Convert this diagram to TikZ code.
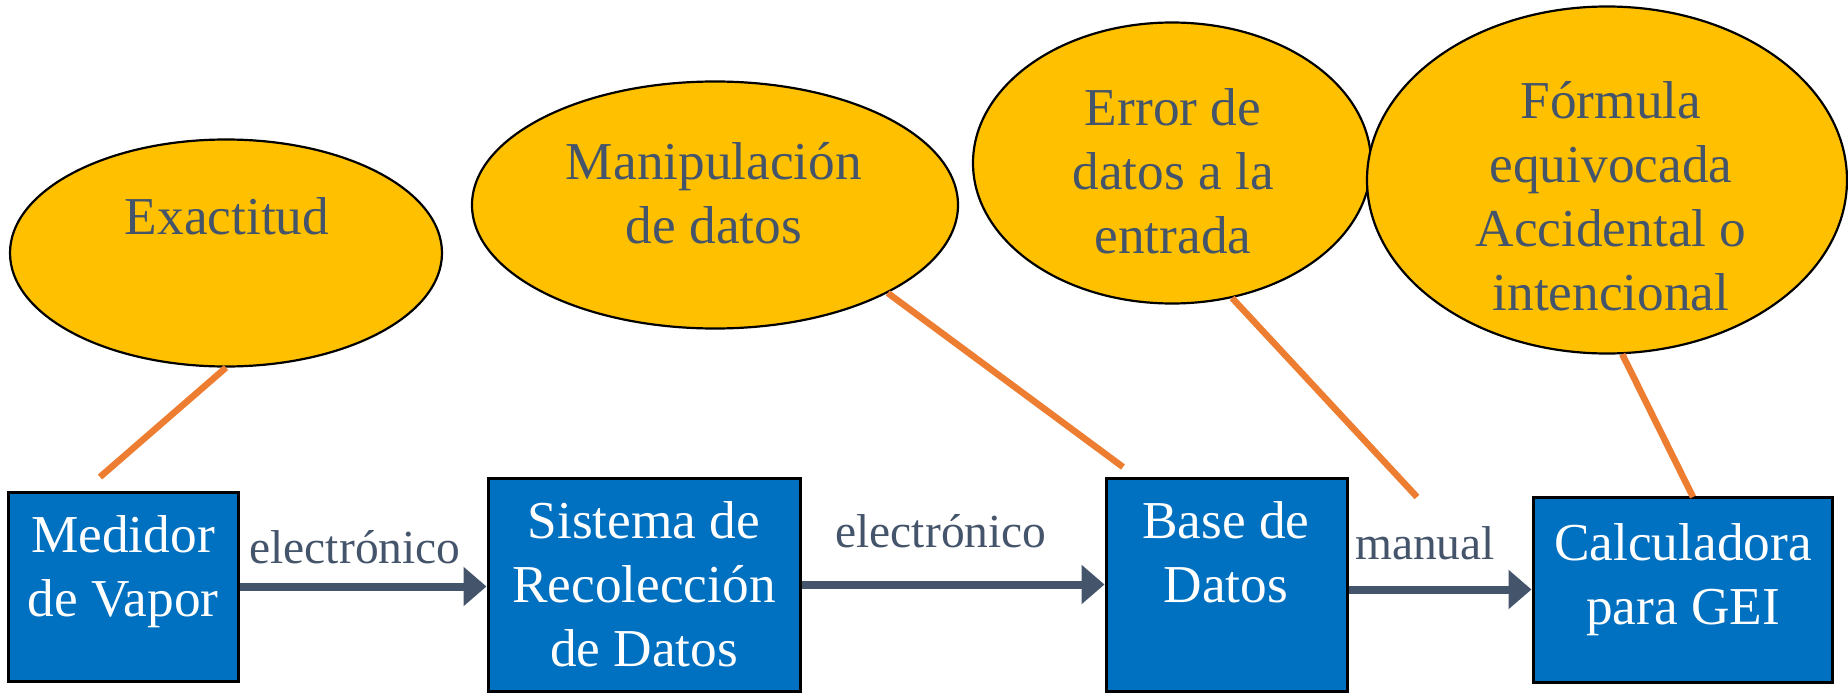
\documentclass[tikz,border=0pt]{standalone}
\usepackage{fontspec}
\setmainfont{Liberation Serif}
\usetikzlibrary{arrows.meta,shapes.geometric}
\definecolor{boxblue}{HTML}{0070C0}
\definecolor{ellyellow}{HTML}{FFC000}
\definecolor{slate}{HTML}{44546A}
\definecolor{linkorange}{HTML}{ED7D31}
\newcommand{\mlines}[1]{\begin{tabular}[t]{@{}c@{}}#1\end{tabular}}
\begin{document}
\begin{tikzpicture}[x=1pt,y=-1pt,
  boxnode/.style={draw=black,line width=3pt,fill=boxblue,inner sep=0pt,rectangle},
  ellnode/.style={draw=black,line width=2.2pt,fill=ellyellow,inner sep=0pt,ellipse},
  boxtext/.style={text=white,inner sep=0pt,anchor=base,font=\fontsize{53.3}{64}\selectfont},
  elltext/.style={text=slate,inner sep=0pt,anchor=base,font=\fontsize{53.3}{64}\selectfont},
  conntext/.style={text=slate,inner sep=0pt,anchor=base,font=\fontsize{47.5}{55}\selectfont},
  conn/.style={draw=slate,line width=8pt,-{Triangle[length=23pt,width=38pt]}},
  lnk/.style={draw=linkorange,line width=6.5pt}]
\useasboundingbox (0,0) rectangle (1848,693);
% boxes
\node[boxnode,minimum width=230pt,minimum height=189pt] (b1) at (123,586.5) {};
\node[boxnode,minimum width=312pt,minimum height=213pt] (b2) at (644,584.5) {};
\node[boxnode,minimum width=241pt,minimum height=213pt] (b3) at (1226.5,584.5) {};
\node[boxnode,minimum width=299pt,minimum height=185pt] (b4) at (1682.5,589.5) {};
\node[boxtext] (t1) at (123,552) {\mlines{Medidor\\de Vapor}};
\node[boxtext] (t2) at (644,538) {\mlines{Sistema de\\Recolección\\de Datos}};
\node[boxtext] (t3) at (1226,538) {\mlines{Base de\\Datos}};
\node[boxtext] (t4) at (1683,560) {\mlines{Calculadora\\para GEI}};
% ellipses
\node[ellnode,minimum width=432pt,minimum height=227pt] (e1) at (226,253) {};
\node[ellnode,minimum width=486pt,minimum height=247pt] (e2) at (715,205) {};
\node[ellnode,minimum width=398pt,minimum height=281pt] (e3) at (1172,163) {};
\node[ellnode,minimum width=480pt,minimum height=347pt] (e4) at (1607,180) {};
\node[elltext] (s1) at (227,234) {Exactitud};
\node[elltext] (s2) at (714,179) {\mlines{Manipulación\\de datos}};
\node[elltext] (s3) at (1173,125) {\mlines{Error de\\datos a la\\entrada}};
\node[elltext] (s4) at (1611,118) {\mlines{Fórmula\\equivocada\\Accidental o\\intencional}};
% connectors
\draw[conn] (b1.east) -- (b1.east -| b2.west);
\draw[conn] (b2.east) -- (b2.east -| b3.west);
\draw[conn] (b4.west -| b3.east) -- (b4.west);
\node[conntext] (l1) at (355,563) {electrónico};
\node[conntext] (l2) at (941,547) {electrónico};
\node[conntext] (l3) at (1425,559) {manual};
% orange links
\coordinate (c1) at (100,477);
\coordinate (c2) at (1123,467);
\coordinate (c3) at (1417,497);
\coordinate (c4) at (1693,497);
\draw[lnk] (e1.south) -- (c1);
\draw[lnk] (e2.-27) -- (c2);
\draw[lnk] (e3.-66) -- (c3);
\draw[lnk] (e4.-85) -- (c4);
\end{tikzpicture}
\end{document}
